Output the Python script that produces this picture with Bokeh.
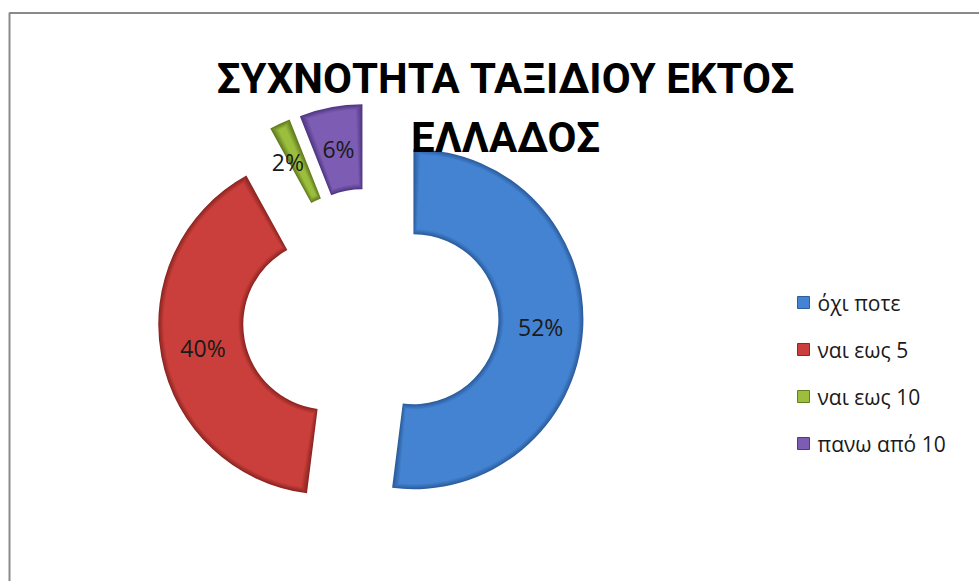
import math
from bokeh.plotting import figure
from bokeh.models import Range1d
from bokeh.core.properties import value
from bokeh.embed import file_html
from bokeh.resources import INLINE

# ---- data ----
categories = ["όχι ποτε", "ναι εως 5", "ναι εως 10", "πανω από 10"]
values = [52, 40, 2, 6]
labels = ["52%", "40%", "2%", "6%"]
title_lines = ["ΣΥΧΝΟΤΗΤΑ ΤΑΞΙΔΙΟΥ ΕΚΤΟΣ", "ΕΛΛΑΔΟΣ"]
main_colors = ["#4383D2", "#CA3F3B", "#9BBF3D", "#7D5CB3"]
edge_colors = ["#2D5E9E", "#8E2623", "#637D21", "#503884"]

def mix(c1, c2, t):
    a = [int(c1[k:k + 2], 16) for k in (1, 3, 5)]
    b = [int(c2[k:k + 2], 16) for k in (1, 3, 5)]
    return "#" + "".join("%02x" % round(a[j] + (b[j] - a[j]) * t) for j in range(3))

W, H = 979, 581
p = figure(width=W, height=H, output_backend="svg", toolbar_location=None,
           x_range=Range1d(0, 979), y_range=Range1d(0, 581),
           min_border=0, background_fill_color="white", border_fill_color="white")
p.axis.visible = False
p.grid.visible = False
p.outline_line_color = None

# frame
p.line(x=[9, 9, 995], y=[-20, 581 - 12.5, 581 - 12.5], line_color="#8a8a8a", line_width=2)

# donut geometry (page y = 581 - data y)
cx, cy = 370, 581 - 316
R_out, R_in = 170, 85
explode = 43
total = float(sum(values))
cum = 0.0
for i, v in enumerate(values):
    t1 = cum / total * 2 * math.pi          # clockwise from top
    t2 = (cum + v) / total * 2 * math.pi
    cum += v
    mid = (t1 + t2) / 2
    ox = cx + explode * math.sin(mid)
    oy = cy + explode * math.cos(mid)
    start = math.pi / 2 - t2
    end = math.pi / 2 - t1
    # soft bevel: from edge colour to main colour
    steps = [0, 1, 2, 3, 4, 5]
    for k, inset in enumerate(steps):
        col = mix(edge_colors[i], main_colors[i], k / (len(steps) - 1))
        ri = R_in + inset
        ro = R_out - inset
        da = inset / ((ri + ro) / 2)
        if end - start - 2 * da <= 0.002:
            continue
        p.annular_wedge(x=[ox], y=[oy], inner_radius=ri, outer_radius=ro,
                        start_angle=start + da, end_angle=end - da,
                        fill_color=col, line_color=None)
    rm = (R_in + R_out) / 2
    lx = ox + rm * math.sin(mid)
    ly = oy + rm * math.cos(mid)
    if v < 3:
        lx -= 10
    p.text(x=[lx], y=[ly], text=[labels[i]], text_align="center", text_baseline="middle",
           text_font=value("Open Sans"), text_font_size="23px", text_color="#1a1a1a")

# title
p.text(x=[505], y=[581 - 78], text=[title_lines[0]], text_align="center",
       text_baseline="alphabetic", text_font=value("Roboto"), text_font_style="bold",
       text_font_size="42px", text_color="#000000")
p.text(x=[505], y=[581 - 137], text=[title_lines[1]], text_align="center",
       text_baseline="alphabetic", text_font=value("Roboto"), text_font_style="bold",
       text_font_size="42px", text_color="#000000")

# legend
leg_x, leg_y0, leg_gap = 803, 581 - 302, 47
for i, c in enumerate(categories):
    yy = leg_y0 - i * leg_gap
    p.scatter(x=[leg_x], y=[yy], marker="square", size=12, fill_color=main_colors[i],
              line_color=edge_colors[i], line_width=1)
    p.text(x=[leg_x + 14], y=[yy], text=[c], text_align="left", text_baseline="middle",
           text_font=value("Open Sans"), text_font_size="21px", text_color="#1a1a1a")

open("out.html", "w").write(file_html(p, INLINE))
